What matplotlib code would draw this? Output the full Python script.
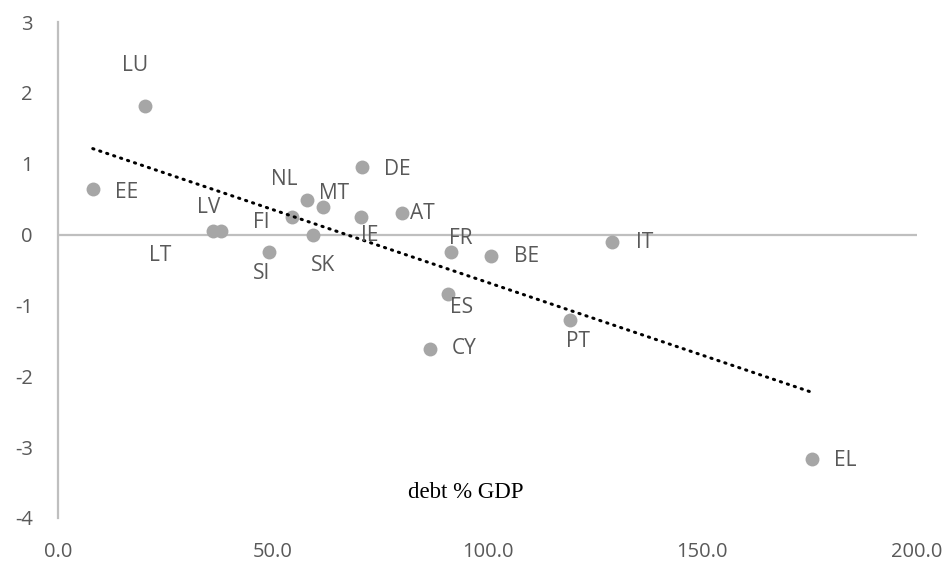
import numpy as np
import matplotlib
matplotlib.use("Agg")
import matplotlib.pyplot as plt
from matplotlib.ticker import FormatStrFormatter

plt.rcParams["axes.unicode_minus"] = False

# debt % GDP (x) vs. y value
paises = ["LU", "EE", "LV", "LT", "FI", "NL", "MT", "SK", "SI", "DE",
          "IE", "AT", "FR", "BE", "IT", "ES", "CY", "PT", "EL"]
divida = [20.2, 8.1, 36.0, 37.9, 54.6, 57.9, 61.6, 59.3, 49.1, 70.7,
          70.5, 80.2, 91.6, 100.9, 129.1, 90.7, 86.7, 119.1, 175.6]
valor = [1.81, 0.64, 0.05, 0.05, 0.25, 0.49, 0.39, 0.0, -0.25, 0.95,
         0.25, 0.30, -0.25, -0.30, -0.10, -0.84, -1.61, -1.20, -3.17]

x_ticks = [0, 50, 100, 150, 200]
y_ticks = [-4, -3, -2, -1, 0, 1, 2, 3]

# deslocamento dos rótulos (pixels, x para direita, y para cima)
offsets = {
    "LU": (-10, 41), "EE": (34, -3), "LV": (-4, 24), "LT": (-61, -24),
    "FI": (-31, -6), "NL": (-22, 20), "MT": (12, 13), "SK": (10, -31),
    "SI": (-7, -21), "DE": (36, -2), "IE": (9, -19), "AT": (20, 0),
    "FR": (9, 14), "BE": (35, -1), "IT": (32, -1), "ES": (14, -13),
    "CY": (34, 0), "PT": (8, -22), "EL": (33, -1),
}

cinza_txt = "#595959"
cinza_eixo = "#bfbfbf"

fig = plt.figure(figsize=(9.52, 5.65), dpi=100)
ax = fig.add_axes([0.0609, 0.0832, 0.9023, 0.8778])

x = np.array(divida)
y = np.array(valor)

ax.scatter(x, y, s=100, color="#a6a6a6", zorder=3, linewidths=0)

# tendência linear
a, b = np.polyfit(x, y, 1)
xt = np.array([x.min(), x.max()])
ax.plot(xt, a * xt + b, color="black", lw=2.2, linestyle=(0, (0.4, 2.0)),
        dash_capstyle="round", zorder=4)

for p, xi, yi in zip(paises, divida, valor):
    dx, dy = offsets[p]
    ax.annotate(p, (xi, yi), xytext=(dx, dy), textcoords="offset pixels",
                ha="center", va="center", fontsize=15, color=cinza_txt,
                family="Open Sans", zorder=5)

ax.set_xlim(0, 200)
ax.set_ylim(-4, 3)
ax.set_xticks(x_ticks)
ax.set_yticks(y_ticks)
ax.xaxis.set_major_formatter(FormatStrFormatter("%.1f"))
ax.tick_params(length=0, labelsize=14.5, labelcolor=cinza_txt)
ax.tick_params(axis="y", pad=18)
ax.tick_params(axis="x", pad=17)
for lab in ax.get_xticklabels() + ax.get_yticklabels():
    lab.set_family("Open Sans")

for s in ["top", "right", "bottom"]:
    ax.spines[s].set_visible(False)
ax.spines["left"].set_color(cinza_eixo)
ax.spines["left"].set_linewidth(1.6)
ax.axhline(0, color=cinza_eixo, lw=1.6, zorder=1)

ax.text(0.475, 0.052, "debt % GDP", transform=ax.transAxes, ha="center",
        va="center", fontsize=16.5, family="Liberation Serif", color="black")

fig.savefig("out.png", dpi=100)
